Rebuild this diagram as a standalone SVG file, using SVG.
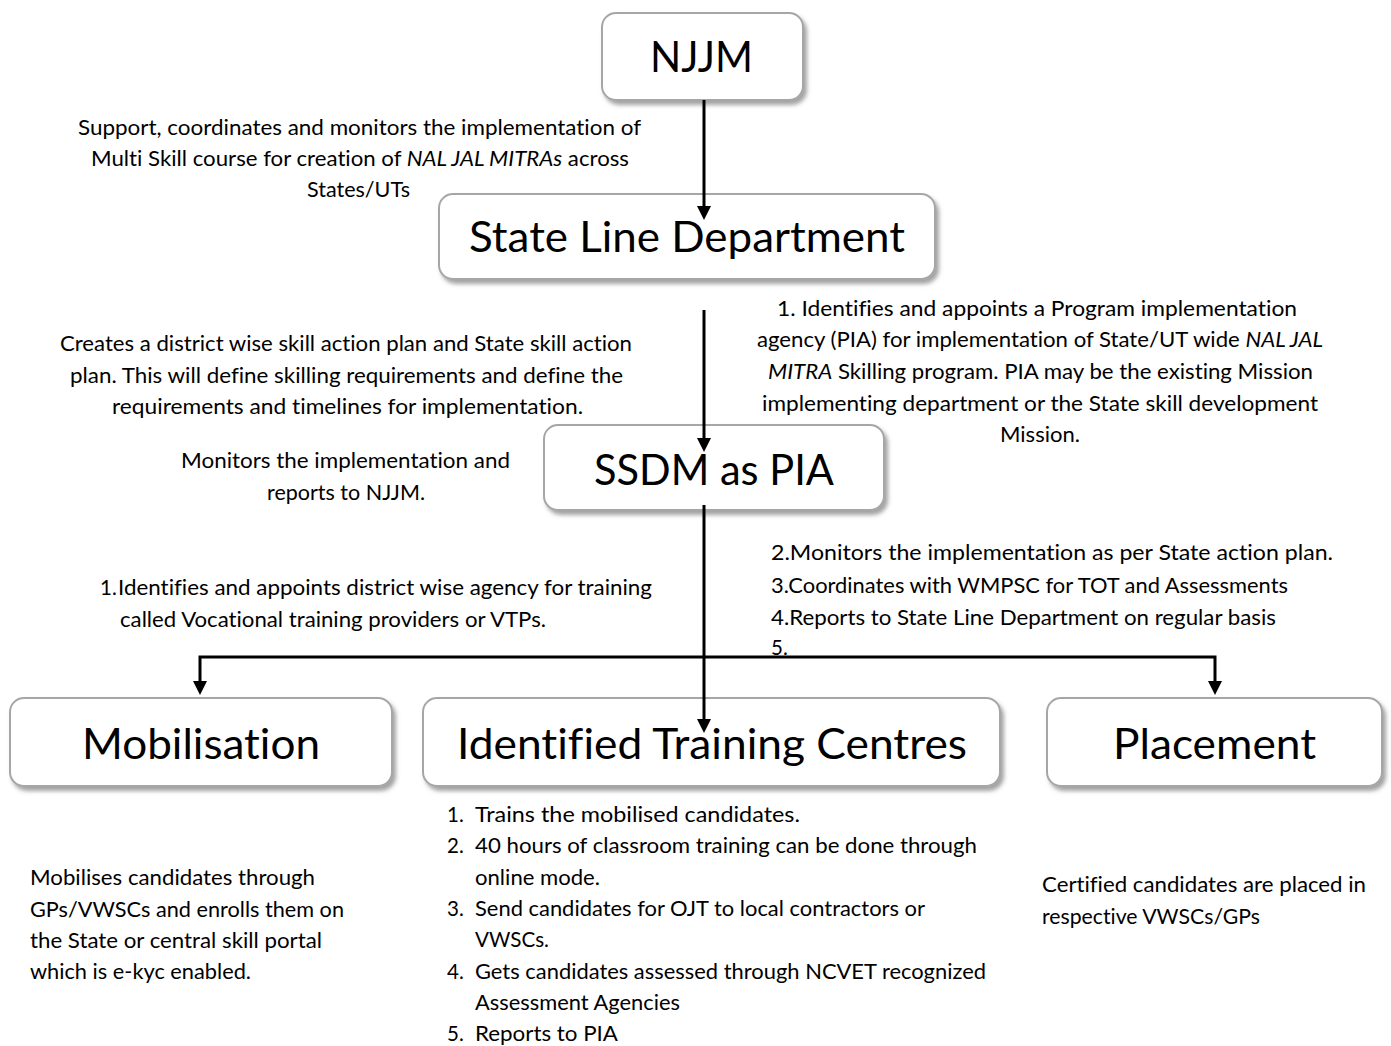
<svg xmlns="http://www.w3.org/2000/svg" width="1391" height="1046" viewBox="0 0 1391 1046">
<defs>
<filter id="sh" x="-10%" y="-10%" width="125%" height="135%">
<feDropShadow dx="3" dy="4" stdDeviation="2" flood-color="#555" flood-opacity="0.55"/>
</filter>
<marker id="ah" markerUnits="userSpaceOnUse" viewBox="0 0 14 14" refX="8" refY="7" markerWidth="14" markerHeight="14" orient="auto-start-reverse">
<path d="M0,0 L14,7 L0,14 z" fill="#000"/>
</marker>
</defs>
<style>
.box{fill:#fff;stroke:#a6a6a6;stroke-width:2;filter:url(#sh)}
.h{font-family:Lato,"Open Sans","Liberation Sans",sans-serif;font-size:42px;fill:#000;font-variant-ligatures:none}
.t{font-family:Lato,"Open Sans","Liberation Sans",sans-serif;font-size:20.5px;fill:#000;font-variant-ligatures:none}
.c{fill:none;stroke:#000;stroke-width:3}
</style>
<rect width="1391" height="1046" fill="#fff"/>

<g id="n-njjm">
<rect class="box" x="602" y="13" width="201" height="87" rx="14"/>
<text class="h" x="650" y="72" textLength="103" lengthAdjust="spacingAndGlyphs">NJJM</text>
</g>
<g id="n-sld">
<rect class="box" x="439" y="194" width="496" height="85" rx="14"/>
<text class="h" x="469" y="252" textLength="436" lengthAdjust="spacingAndGlyphs">State Line Department</text>
</g>
<g id="n-ssdm">
<rect class="box" x="544" y="425" width="340" height="85" rx="14"/>
<text class="h" x="594" y="485" textLength="240" lengthAdjust="spacingAndGlyphs">SSDM as PIA</text>
</g>
<g id="n-mob">
<rect class="box" x="10" y="698" width="382" height="88" rx="14"/>
<text class="h" x="82" y="759" textLength="238" lengthAdjust="spacingAndGlyphs">Mobilisation</text>
</g>
<g id="n-itc">
<rect class="box" x="423" y="698" width="577" height="88" rx="14"/>
<text class="h" x="457" y="759" textLength="510" lengthAdjust="spacingAndGlyphs">Identified Training Centres</text>
</g>
<g id="n-place">
<rect class="box" x="1047" y="698" width="335" height="88" rx="14"/>
<text class="h" x="1113" y="759" textLength="203" lengthAdjust="spacingAndGlyphs">Placement</text>
</g>

<g id="labels">
<text class="t" x="78" y="135" textLength="563" lengthAdjust="spacingAndGlyphs">Support, coordinates and monitors the implementation of</text>
<text class="t" x="91" y="166" textLength="538" lengthAdjust="spacingAndGlyphs">Multi Skill course for creation of <tspan font-style="italic">NAL JAL MITRAs</tspan> across</text>
<text class="t" x="307" y="197" textLength="103" lengthAdjust="spacingAndGlyphs">States/UTs</text>

<text class="t" x="60" y="351" textLength="572" lengthAdjust="spacingAndGlyphs">Creates a district wise skill action plan and State skill action</text>
<text class="t" x="70" y="383" textLength="553" lengthAdjust="spacingAndGlyphs">plan. This will define skilling requirements and define the</text>
<text class="t" x="112" y="414" textLength="471" lengthAdjust="spacingAndGlyphs">requirements and timelines for implementation.</text>

<text class="t" x="181" y="468" textLength="329" lengthAdjust="spacingAndGlyphs">Monitors the implementation and</text>
<text class="t" x="267" y="500" textLength="158" lengthAdjust="spacingAndGlyphs">reports to NJJM.</text>

<text class="t" x="777" y="316" textLength="520" lengthAdjust="spacingAndGlyphs">1. Identifies and appoints a Program implementation</text>
<text class="t" x="757" y="347" textLength="566" lengthAdjust="spacingAndGlyphs">agency (PIA) for implementation of State/UT wide <tspan font-style="italic">NAL JAL</tspan></text>
<text class="t" x="768" y="379" textLength="545" lengthAdjust="spacingAndGlyphs"><tspan font-style="italic">MITRA</tspan> Skilling program. PIA may be the existing Mission</text>
<text class="t" x="762" y="411" textLength="556" lengthAdjust="spacingAndGlyphs">implementing department or the State skill development</text>
<text class="t" x="1000" y="442" textLength="80" lengthAdjust="spacingAndGlyphs">Mission.</text>

<text class="t" x="771" y="560" textLength="562" lengthAdjust="spacingAndGlyphs">2.Monitors the implementation as per State action plan.</text>
<text class="t" x="771" y="593" textLength="517" lengthAdjust="spacingAndGlyphs">3.Coordinates with WMPSC for TOT and Assessments</text>
<text class="t" x="771" y="625" textLength="505" lengthAdjust="spacingAndGlyphs">4.Reports to State Line Department on regular basis</text>
<text class="t" x="771" y="655">5.</text>

<text class="t" x="100" y="595">1.</text>
<text class="t" x="118" y="595" textLength="534" lengthAdjust="spacingAndGlyphs">Identifies and appoints district wise agency for training</text>
<text class="t" x="120" y="627" textLength="426" lengthAdjust="spacingAndGlyphs">called Vocational training providers or VTPs.</text>

<text class="t" x="30" y="885" textLength="285" lengthAdjust="spacingAndGlyphs">Mobilises candidates through</text>
<text class="t" x="30" y="917" textLength="314" lengthAdjust="spacingAndGlyphs">GPs/VWSCs and enrolls them on</text>
<text class="t" x="30" y="948" textLength="292" lengthAdjust="spacingAndGlyphs">the State or central skill portal</text>
<text class="t" x="30" y="979" textLength="221" lengthAdjust="spacingAndGlyphs">which is e-kyc enabled.</text>

<text class="t" x="447" y="822">1.</text>
<text class="t" x="475" y="822" textLength="325" lengthAdjust="spacingAndGlyphs">Trains the mobilised candidates.</text>
<text class="t" x="447" y="853">2.</text>
<text class="t" x="475" y="853" textLength="502" lengthAdjust="spacingAndGlyphs">40 hours of classroom training can be done through</text>
<text class="t" x="475" y="885" textLength="125" lengthAdjust="spacingAndGlyphs">online mode.</text>
<text class="t" x="447" y="916">3.</text>
<text class="t" x="475" y="916" textLength="450" lengthAdjust="spacingAndGlyphs">Send candidates for OJT to local contractors or</text>
<text class="t" x="475" y="947" textLength="74" lengthAdjust="spacingAndGlyphs">VWSCs.</text>
<text class="t" x="447" y="979">4.</text>
<text class="t" x="475" y="979" textLength="511" lengthAdjust="spacingAndGlyphs">Gets candidates assessed through NCVET recognized</text>
<text class="t" x="475" y="1010" textLength="205" lengthAdjust="spacingAndGlyphs">Assessment Agencies</text>
<text class="t" x="447" y="1041">5.</text>
<text class="t" x="475" y="1041" textLength="143" lengthAdjust="spacingAndGlyphs">Reports to PIA</text>

<text class="t" x="1042" y="892" textLength="324" lengthAdjust="spacingAndGlyphs">Certified candidates are placed in</text>
<text class="t" x="1042" y="924" textLength="218" lengthAdjust="spacingAndGlyphs">respective VWSCs/GPs</text>
</g>

<g id="connectors">
<path class="c" d="M704,100 L704,214" marker-end="url(#ah)"/>
<path class="c" d="M704,310 L704,446" marker-end="url(#ah)"/>
<path class="c" d="M704,505 L704,727" marker-end="url(#ah)"/>
<path class="c" d="M200,689 L200,657 L1215,657 L1215,689" marker-start="url(#ah)" marker-end="url(#ah)"/>
</g>
</svg>
